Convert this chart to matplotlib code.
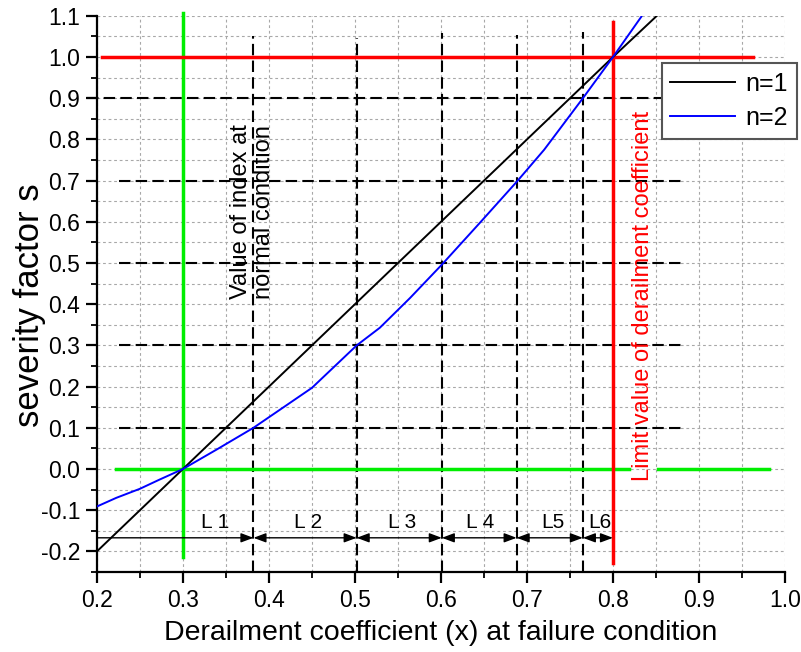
import matplotlib
matplotlib.use("Agg")
from matplotlib import pyplot as plt
from matplotlib.ticker import MultipleLocator, FormatStrFormatter

plt.rcParams['font.family'] = ['Liberation Sans', 'DejaVu Sans']

# curves
x_n1 = [0.20, 0.30, 0.384, 0.50, 0.60, 0.80, 0.851]
s_n1 = [-0.20, 0.00, 0.168, 0.40, 0.60, 1.00, 1.10]

x_n2 = [0.20, 0.2225, 0.25, 0.2725, 0.30, 0.339, 0.382, 0.45, 0.502, 0.529, 0.564,
        0.601, 0.645, 0.688, 0.72, 0.765, 0.80, 0.833]
s_n2 = [-0.091, -0.07, -0.048, -0.026, 0.0, 0.047, 0.10, 0.197, 0.30, 0.343, 0.415,
        0.496, 0.597, 0.697, 0.775, 0.90, 1.00, 1.098]

# interval borders (blue curve crossing 0.1, 0.3, 0.5, 0.7, 0.9)
x_borders = [0.382, 0.502, 0.601, 0.688, 0.765]
border_tops = [1.05, 1.047, 1.058, 1.054, 1.06]
s_levels = [0.1, 0.3, 0.5, 0.7, 0.9]
level_start = [0.226, 0.226, 0.226, 0.226, 0.188]
level_end = [0.88, 0.88, 0.88, 0.88, 0.98]

# reference lines
x_normal = 0.3
x_limit = 0.8
s_limit = 1.0

# interval labels
interval_names = ['L 1', 'L 2', 'L 3', 'L 4', 'L5', 'L6']
interval_edges = [0.2, 0.382, 0.502, 0.601, 0.688, 0.765, 0.8]
label_x = [0.338, 0.445, 0.555, 0.645, 0.730, 0.785]
arrow_y = -0.167

fig = plt.figure(figsize=(8.01, 6.52), dpi=100)
ax = fig.add_axes([0.121, 0.1227, 0.859, 0.853])

# dotted grid every 0.05
ax.set_xlim(0.2, 1.0)
ax.set_ylim(-0.25, 1.1)
ax.xaxis.set_major_locator(MultipleLocator(0.1))
ax.xaxis.set_minor_locator(MultipleLocator(0.05))
ax.yaxis.set_major_locator(MultipleLocator(0.1))
ax.yaxis.set_minor_locator(MultipleLocator(0.05))
ax.yaxis.set_major_formatter(FormatStrFormatter('%.1f'))
ax.xaxis.set_major_formatter(FormatStrFormatter('%.1f'))
ax.grid(which='both', color='#a8a8a8', linestyle=(0, (2.5, 2.5)), linewidth=0.8)
ax.set_axisbelow(True)

for sp in ['top', 'right']:
    ax.spines[sp].set_visible(False)
for sp in ['left', 'bottom']:
    ax.spines[sp].set_linewidth(1.6)
ax.tick_params(which='major', direction='out', length=8, width=1.6, labelsize=16.5, pad=4)
ax.tick_params(which='minor', direction='out', length=4, width=1.3)

# dashed helper lines
dash = (0, (5.5, 2.5))
for xb, top in zip(x_borders, border_tops):
    ax.plot([xb, xb], [-0.25, top], color='black', linestyle=dash, linewidth=1.5, zorder=2)
for lv, a, b in zip(s_levels, level_start, level_end):
    ax.plot([a, b], [lv, lv], color='black', linestyle=dash, linewidth=1.5, zorder=2, clip_on=False)

# green lines (normal condition)
ax.plot([x_normal, x_normal], [-0.213, 1.108], color='#00ee00', linewidth=2.5, zorder=3, clip_on=False)
ax.plot([0.222, 0.819], [0, 0], color='#00ee00', linewidth=2.5, zorder=3)
ax.plot([0.852, 0.981], [0, 0], color='#00ee00', linewidth=2.5, zorder=3)

# red lines (limit)
ax.plot([0.206, 0.963], [s_limit, s_limit], color='red', linewidth=2.5, zorder=3)
ax.plot([x_limit, x_limit], [-0.227, 1.085], color='red', linewidth=2.5, zorder=3)

# curves
ax.plot(x_n1, s_n1, color='black', linewidth=1.4, label='n=1', zorder=4)
ax.plot(x_n2, s_n2, color='blue', linewidth=1.4, label='n=2', zorder=4)

# arrows between interval borders
for i in range(len(interval_names)):
    style = '-|>' if i == 0 else '<|-|>'
    ax.annotate('', xy=(interval_edges[i + 1], arrow_y), xytext=(interval_edges[i], arrow_y),
                arrowprops=dict(arrowstyle=style + ',head_length=0.75,head_width=0.28',
                                color='black', linewidth=1.0, shrinkA=0, shrinkB=0))
    ax.text(label_x[i], arrow_y + 0.037, interval_names[i], fontsize=15, ha='center', va='center')

ax.text(0.381, 0.624, 'Value of index at\nnormal condition', rotation=90, fontsize=17,
        ha='center', va='center', linespacing=1.1)
ax.text(0.835, 0.419, 'Limit value of derailment coefficient', rotation=90, fontsize=17,
        color='red', ha='center', va='center')

ax.set_xlabel('Derailment coefficient (x) at failure condition', fontsize=20.5, labelpad=6)
ax.set_ylabel('severity factor s', fontsize=25)
ax.yaxis.set_label_coords(-0.074, 0.48)

leg = ax.legend(loc='upper right', bbox_to_anchor=(1.017, 0.9155), fontsize=18, fancybox=False,
                edgecolor='#555555', framealpha=1, borderaxespad=0, handlelength=2.6,
                borderpad=0.35, labelspacing=0.42, handletextpad=0.4)
leg.get_frame().set_linewidth(1.5)

plt.savefig('out.png', dpi=100)
